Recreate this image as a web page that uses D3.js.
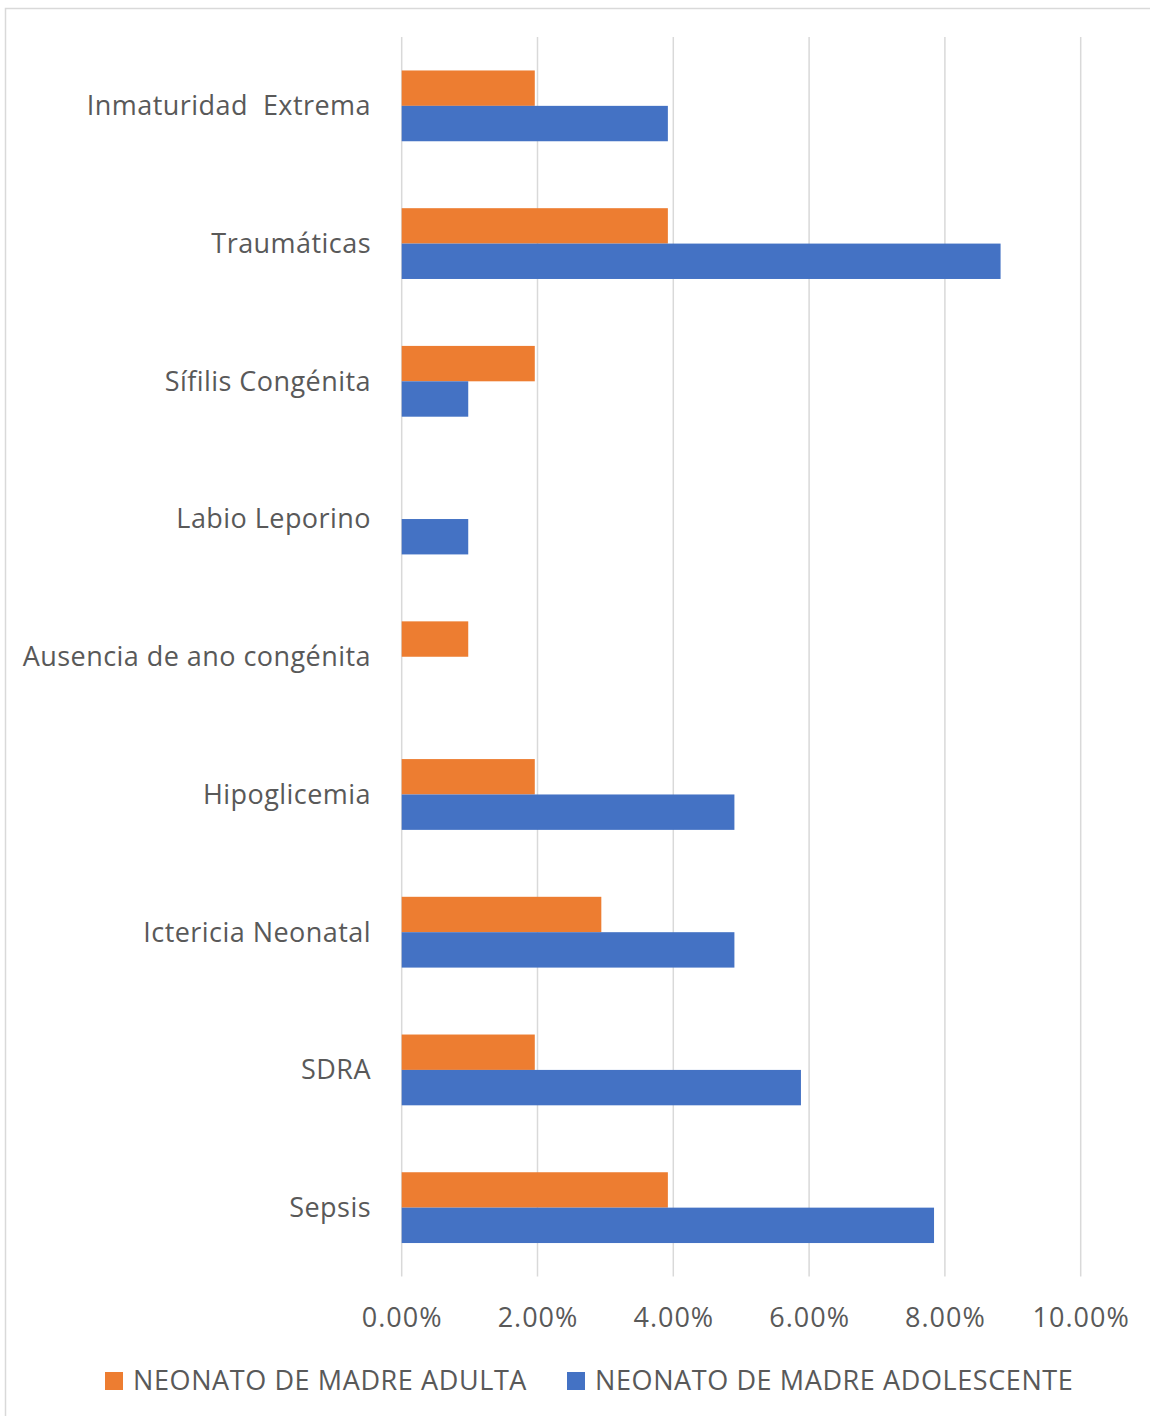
<!DOCTYPE html>
<html><head><meta charset="utf-8">
<script src="https://cdn.jsdelivr.net/npm/d3@7"></script>
<style>body{margin:0;background:#fff}svg{display:block}</style>
</head><body><svg id="c" width="1150" height="1416"></svg>
<script>
const categories = ["Inmaturidad  Extrema","Traumáticas","Sífilis Congénita","Labio Leporino","Ausencia de ano congénita","Hipoglicemia","Ictericia Neonatal","SDRA","Sepsis"];
const seriesNames = ["NEONATO DE MADRE ADULTA","NEONATO DE MADRE ADOLESCENTE"];
const adulta = [0.0196,0.0392,0.0196,0,0.0098,0.0196,0.0294,0.0196,0.0392];
const adolescente = [0.0392,0.0882,0.0098,0.0098,0,0.0490,0.0490,0.0588,0.0784];
const xTicks = [0,0.02,0.04,0.06,0.08,0.10];
const colors = ["#ED7D31","#4472C4"];

const svg = d3.select("#c");
const font = "'Open Sans', sans-serif";
const textColor = "#595959";

// chart border
svg.append("rect").attr("x",5.5).attr("y",8.5).attr("width",1160).attr("height",1420)
  .attr("fill","none").attr("stroke","#D9D9D9").attr("stroke-width",1.5);

const x = d3.scaleLinear().domain([0,0.10]).range([401.7,1080.7]);
const y = d3.scaleBand().domain(categories).range([37,1276.5]).paddingInner(0).paddingOuter(0);
const barH = y.bandwidth()*0.257;

// gridlines
svg.append("g").selectAll("line").data(xTicks).join("line")
  .attr("x1",d=>x(d)).attr("x2",d=>x(d)).attr("y1",37).attr("y2",1276.5)
  .attr("stroke","#D9D9D9").attr("stroke-width",1.5);

// bars
const series = [adulta, adolescente];
series.forEach((vals,si)=>{
  svg.append("g").selectAll("rect").data(categories).join("rect")
    .attr("x",x(0))
    .attr("y",(d)=>y(d)+y.bandwidth()/2 + (si===0? -barH : 0))
    .attr("width",(d,i)=>x(vals[i])-x(0))
    .attr("height",barH)
    .attr("fill",colors[si]);
});

// category labels
const yAxis = d3.axisLeft(y).tickSize(0).tickPadding(0);
const gy = svg.append("g").attr("transform","translate(371,0)").call(yAxis);
gy.select(".domain").remove();
gy.selectAll("text").attr("font-family",font).attr("font-size",27).attr("fill",textColor)
  .attr("letter-spacing",0.45).attr("dy","0.35em").style("white-space","pre");

// x axis labels
const xAxis = d3.axisBottom(x).tickValues(xTicks).tickFormat(d3.format(".2%")).tickSize(0).tickPadding(0);
const gx = svg.append("g").attr("transform","translate(0,1327)").call(xAxis);
gx.select(".domain").remove();
gx.selectAll("text").attr("font-family",font).attr("font-size",27).attr("fill",textColor)
  .attr("letter-spacing",1).attr("dy",0);

// legend
const legendX = [105, 567];
seriesNames.forEach((n,i)=>{
  svg.append("rect").attr("x",legendX[i]).attr("y",1372).attr("width",18).attr("height",18).attr("fill",colors[i]);
  svg.append("text").attr("x",legendX[i]+28).attr("y",1389.5).text(n)
    .attr("font-family",font).attr("font-size",27).attr("letter-spacing",0.6).attr("fill",textColor);
});
</script></body></html>
